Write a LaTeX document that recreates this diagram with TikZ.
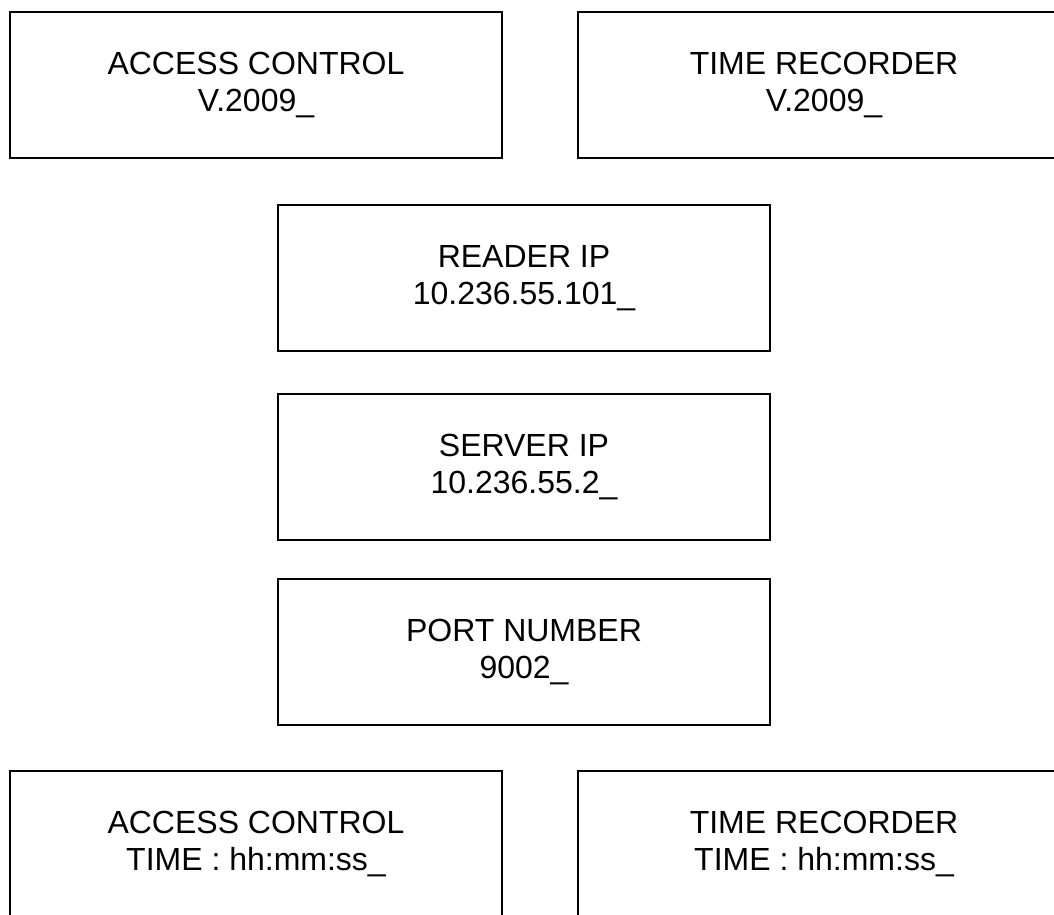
\documentclass[tikz,border=0pt]{standalone}
\usepackage{fontspec}
\setmainfont{Liberation Sans}
\tikzset{
  panel/.style={draw=black, line width=2pt, minimum width=492pt, minimum height=146pt,
    inner sep=0pt, align=center, font=\fontsize{32}{37}\selectfont},
}
\begin{document}
\begin{tikzpicture}[x=1pt,y=-1pt]
\useasboundingbox[fill=white] (0,0) rectangle (1054,914);
\clip (0,0) rectangle (1054,914);
\node[panel] (ac) at (256,85) {ACCESS CONTROL\\V.2009\_};
\node[panel] (tr) at (824,85) {TIME RECORDER\\V.2009\_};
\node[panel] (rip) at (524,278) {READER IP\\10.236.55.101\_};
\node[panel] (sip) at (524,466.5) {SERVER IP\\10.236.55.2\_};
\node[panel] (port) at (524,651.5) {PORT NUMBER\\9002\_};
\node[panel] (act) at (256,843.5) {ACCESS CONTROL\\TIME : hh:mm:ss\_};
\node[panel] (trt) at (824,843.5) {TIME RECORDER\\TIME : hh:mm:ss\_};
\end{tikzpicture}
\end{document}
